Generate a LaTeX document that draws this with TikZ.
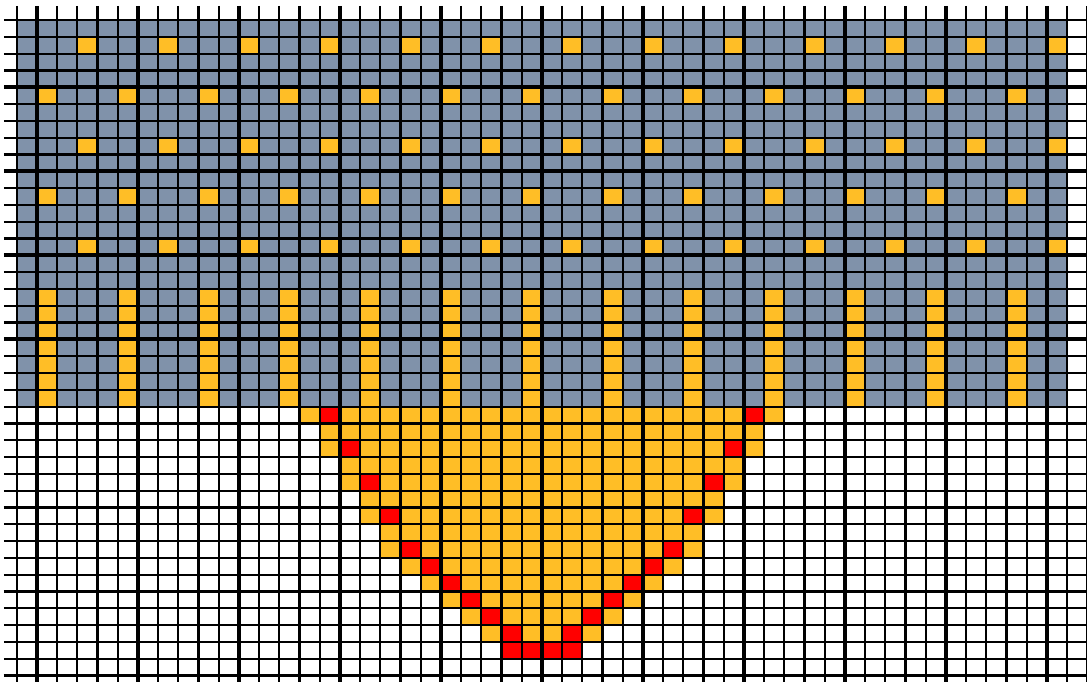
\documentclass[tikz,border=0pt]{standalone}
\usetikzlibrary{calc}
\usepackage{xcolor}
\definecolor{slate}{RGB}{128,146,170}
\definecolor{amber}{RGB}{255,190,38}
\definecolor{hotred}{RGB}{255,0,0}
\tikzstyle{rock} = [
fill=slate
]
\tikzstyle{melt} = [
fill=amber
]
\tikzstyle{front} = [
fill=hotred
]
\tikzstyle{fineline} = [
draw=black,
line width=1.1pt
]
\tikzstyle{heavyline} = [
draw=black,
line width=1.9pt
]

\begin{document}
\begin{tikzpicture}[x=10.1pt,y=-8.405pt]

        \useasboundingbox (-0.8267,-1.1898) rectangle (52.985,39.322);
        \clip (-0.8267,-1.1898) rectangle (52.985,39.322);

        % upper block
        \fill[rock] (0,0) rectangle (52,23);

        % scattered cells
        \foreach \r in {1,7,13}
        \foreach \c in {3,7,...,51}
        \fill[melt] (\c,\r) rectangle ++(1,1);
        \foreach \r in {4,10}
        \foreach \c in {1,5,...,49}
        \fill[melt] (\c,\r) rectangle ++(1,1);

        % columns
        \foreach \c in {1,5,...,49}
        \fill[melt] (\c,16) rectangle (\c+1,23);

        % bowl
        \foreach \r/\l in {23/14,24/15,25/15,26/16,27/16,28/17,29/17,30/18,
        31/18,32/19,33/20,34/21,35/22,36/23,37/24}
        \fill[melt] (\l,\r) rectangle (52-\l,\r+1);

        % rim
        \foreach \r/\c in {23/15,25/16,27/17,29/18,31/19,32/20,33/21,
        34/22,35/23,36/24,37/24,37/25}
        {
        \fill[front] (\c,\r) rectangle ++(1,1);
        \fill[front] (51-\c,\r) rectangle ++(1,1);
        }

        % grid
        \foreach \j in {0,...,53}
        \draw[fineline] (\j,-0.833) -- (\j,40);
        \foreach \i in {0,...,39}
        \draw[fineline] (-0.629,\i) -- (54,\i);
        \foreach \j in {1,6,...,51}
        \draw[heavyline] (\j,-0.833) -- (\j,40);
        \foreach \i in {4,9,...,39}
        \draw[heavyline] (-0.629,\i) -- (54,\i);

\end{tikzpicture}
\end{document}
